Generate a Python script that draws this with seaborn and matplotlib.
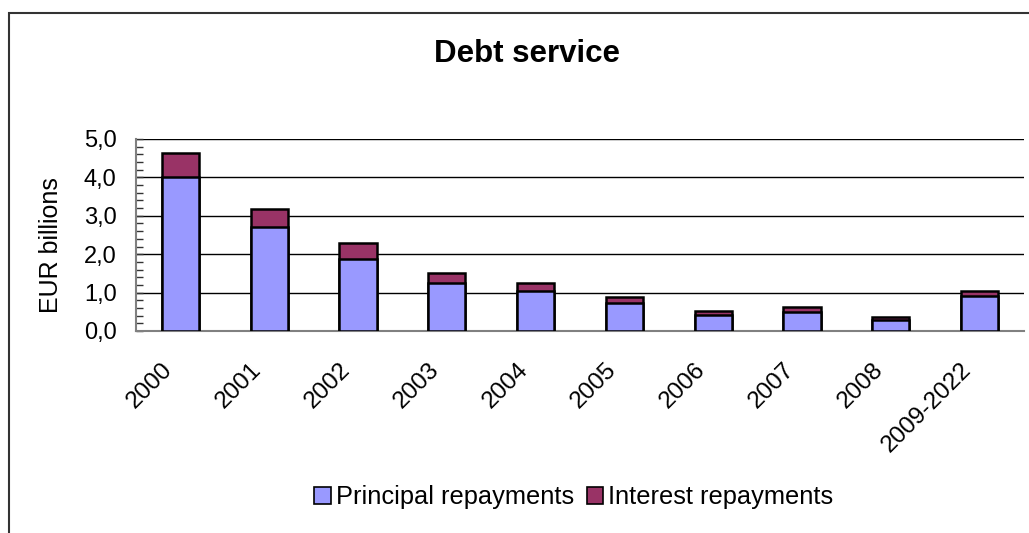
import matplotlib
matplotlib.use("Agg")
import matplotlib.pyplot as plt
import matplotlib.transforms as mtransforms
import seaborn as sns
import pandas as pd
from matplotlib.patches import Patch, Rectangle
from matplotlib.ticker import MultipleLocator, FuncFormatter

categories = ["2000", "2001", "2002", "2003", "2004", "2005", "2006", "2007", "2008", "2009-2022"]
principal = [4.00, 2.70, 1.88, 1.24, 1.04, 0.72, 0.42, 0.50, 0.29, 0.92]
interest = [0.63, 0.47, 0.41, 0.26, 0.22, 0.16, 0.10, 0.13, 0.07, 0.12]
yticks = [0.0, 1.0, 2.0, 3.0, 4.0, 5.0]

sns.set_theme(style="white")
plt.rcParams['font.family'] = ['Liberation Sans', 'DejaVu Sans']
plt.rcParams['text.color'] = 'black'
plt.rcParams['axes.labelcolor'] = 'black'
plt.rcParams['xtick.color'] = 'black'
plt.rcParams['ytick.color'] = 'black'

df = pd.DataFrame({
    "year": categories,
    "principal": principal,
    "total": [p + i for p, i in zip(principal, interest)],
})

fig = plt.figure(figsize=(10.29, 5.33), dpi=100)
ax = fig.add_axes([136/1029, 1 - 331/533, (1024 - 136)/1029, (331 - 139)/533])

sns.barplot(data=df, x="year", y="total", color="#993366", saturation=1,
            width=0.42, edgecolor="black", linewidth=1.8, ax=ax, zorder=3)
sns.barplot(data=df, x="year", y="principal", color="#9999FF", saturation=1,
            width=0.42, edgecolor="black", linewidth=1.8, ax=ax, zorder=4)

ax.set_ylim(0, 5.0)
ax.set_xlim(-0.5, len(categories) - 0.5)
ax.set_yticks(yticks)
ax.yaxis.set_minor_locator(MultipleLocator(0.2))
ax.yaxis.set_major_formatter(FuncFormatter(lambda v, p: f"{v:.1f}".replace(".", ",")))
ax.grid(axis="y", color="black", linewidth=1.0, zorder=0)
ax.set_axisbelow(True)
for s in ["top", "right"]:
    ax.spines[s].set_visible(False)
ax.spines["left"].set_color("#808080")
ax.spines["left"].set_linewidth(1.5)
ax.spines["bottom"].set_color("#808080")
ax.spines["bottom"].set_linewidth(1.5)

ax.tick_params(axis="y", which="both", direction="in", left=True, length=5, width=1, color="#333333", labelsize=17, pad=14)
ax.tick_params(axis="y", which="minor", length=5)
ax.tick_params(axis="x", bottom=False, labelsize=17.5, pad=4)
offset = mtransforms.ScaledTranslation(-19/100, -14/100, fig.dpi_scale_trans)
for lbl in ax.get_xticklabels():
    lbl.set_rotation(45)
    lbl.set_ha("right")
    lbl.set_rotation_mode("anchor")
    lbl.set_transform(lbl.get_transform() + offset)

ax.set_xlabel("")
ax.set_ylabel("")
fig.text(51/1029, 1 - 245/533, "EUR billions", rotation=90, ha="center", va="center", fontsize=18)

fig.text(527/1029, 1 - 62/533, "Debt service", ha="center", va="baseline", fontsize=22.5, fontweight="bold")

handles = [Patch(facecolor="#9999FF", edgecolor="black", linewidth=1.2, label="Principal repayments"),
           Patch(facecolor="#993366", edgecolor="black", linewidth=1.2, label="Interest repayments")]
fig.legend(handles=handles, loc="center", bbox_to_anchor=(574/1029, 1 - 497/533), ncol=2,
           frameon=False, fontsize=18.3, handlelength=0.65, handleheight=0.65, handletextpad=0.2,
           columnspacing=0.5)

fig.patches.append(Rectangle((9/1029, -0.1), 1.1, 1 - 13/533 + 0.1, transform=fig.transFigure,
                             fill=False, edgecolor="#333333", linewidth=1.5))

fig.savefig("out.png", dpi=100, facecolor="white")
